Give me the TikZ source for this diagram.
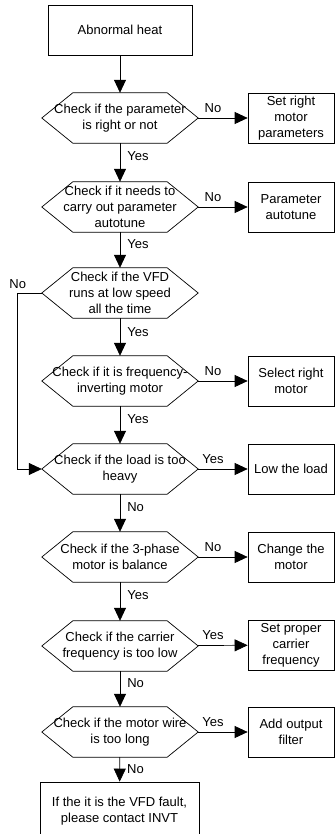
\documentclass[tikz,border=0pt]{standalone}
\usepackage{fontspec}
\setmainfont{Liberation Sans}
\usetikzlibrary{arrows.meta}

\begin{document}
\begin{tikzpicture}[x=1pt, y=-1pt,
    block/.style={rectangle, draw, line width=0.7pt,
              inner sep=0pt, text centered, align=center,
              font=\fontsize{13}{16}\selectfont},
    decision/.style={rectangle, minimum width=156pt, minimum height=50pt,
              inner sep=0pt, text centered, align=center,
              font=\fontsize{13}{16}\selectfont},
    action/.style={block, minimum width=86pt, minimum height=50pt},
    arrow/.style={-{Triangle[length=13pt, width=12pt]}, line width=0.7pt},
    lbl/.style={font=\fontsize{13}{16}\selectfont, inner sep=2pt}
]
    \useasboundingbox (0,0) rectangle (335,834);
    \clip (0,0) rectangle (335,834);

    \node[block, minimum width=144pt, minimum height=50pt] (heat) at (120,30)
        {Abnormal heat};

    % checks
    \node[decision] (param)   at (120,118) {Check if the parameter\\is right or not};
    \node[decision] (tune)    at (120,207) {Check if it needs to\\carry out parameter\\autotune};
    \node[decision] (speed)   at (120,293) {Check if the VFD\\runs at low speed\\all the time};
    \node[decision] (motor)   at (120,381) {Check if it is frequency-\\inverting motor};
    \node[decision] (load)    at (120,469) {Check if the load is too\\heavy};
    \node[decision] (phase)   at (120,557) {Check if the 3-phase\\motor is balance};
    \node[decision] (carrier) at (120,646) {Check if the carrier\\frequency is too low};
    \node[decision] (wire)    at (120,732) {Check if the motor wire\\is too long};

    % actions
    \node[action] (setmotor)  at (291,118) {Set right\\motor\\parameters};
    \node[action] (autotune)  at (291,207) {Parameter\\autotune};
    \node[action] (selmotor)  at (291,381) {Select right\\motor};
    \node[action] (lowload)   at (291,469) {Low the load};
    \node[action] (chmotor)   at (291,557) {Change the\\motor};
    \node[action] (setfreq)   at (291,645) {Set proper\\carrier\\frequency};
    \node[action] (filter)    at (291,732) {Add output\\filter};

    \node[block, minimum width=159pt, minimum height=59pt] (fault) at (119.5,811.5)
        {If the it is the VFD fault,\\please contact INVT};

    % hexagon outlines
    \foreach \n in {param, tune, speed, motor, load, phase, carrier, wire}
        \draw[line width=0.7pt] (\n.west) -- ([xshift=31pt]\n.north west)
            -- ([xshift=-31pt]\n.north east) -- (\n.east)
            -- ([xshift=-31pt]\n.south east) -- ([xshift=31pt]\n.south west) -- cycle;

    % main line
    \draw[arrow] (heat) -- (param);
    \draw[arrow] (param) -- node[lbl, right=5pt, pos=0.33] {Yes} (tune);
    \draw[arrow] (tune) -- node[lbl, right=5pt, pos=0.33] {Yes} (speed);
    \draw[arrow] (speed) -- node[lbl, right=5pt, pos=0.36] {Yes} (motor);
    \draw[arrow] (motor) -- node[lbl, right=5pt, pos=0.33] {Yes} (load);
    \draw[arrow] (load) -- node[lbl, right=5pt, pos=0.33] {No} (phase);
    \draw[arrow] (phase) -- node[lbl, right=5pt, pos=0.33] {Yes} (carrier);
    \draw[arrow] (carrier) -- node[lbl, right=5pt, pos=0.33] {No} (wire);
    \draw[arrow] (wire) -- node[lbl, right=5pt, pos=0.5] {No} (fault);

    % side branches
    \draw[arrow] (param) -- node[lbl, above=3pt, pos=0.3] {No} (setmotor);
    \draw[arrow] (tune) -- node[lbl, above=3pt, pos=0.3] {No} (autotune);
    \draw[arrow] (motor) -- node[lbl, above=3pt, pos=0.3] {No} (selmotor);
    \draw[arrow] (load) -- node[lbl, above=3pt, pos=0.3] {Yes} (lowload);
    \draw[arrow] (phase) -- node[lbl, above=3pt, pos=0.3] {No} (chmotor);
    \draw[arrow] (carrier) -- node[lbl, above=3pt, pos=0.3] {Yes} (setfreq);
    \draw[arrow] (wire) -- node[lbl, above=3pt, pos=0.3] {Yes} (filter);

    % low speed loop
    \coordinate (bend) at ([xshift=-24pt]speed.west);
    \draw[arrow] (speed.west) -- (bend) node[lbl, above=2pt] {No} |- (load.west);
\end{tikzpicture}
\end{document}
